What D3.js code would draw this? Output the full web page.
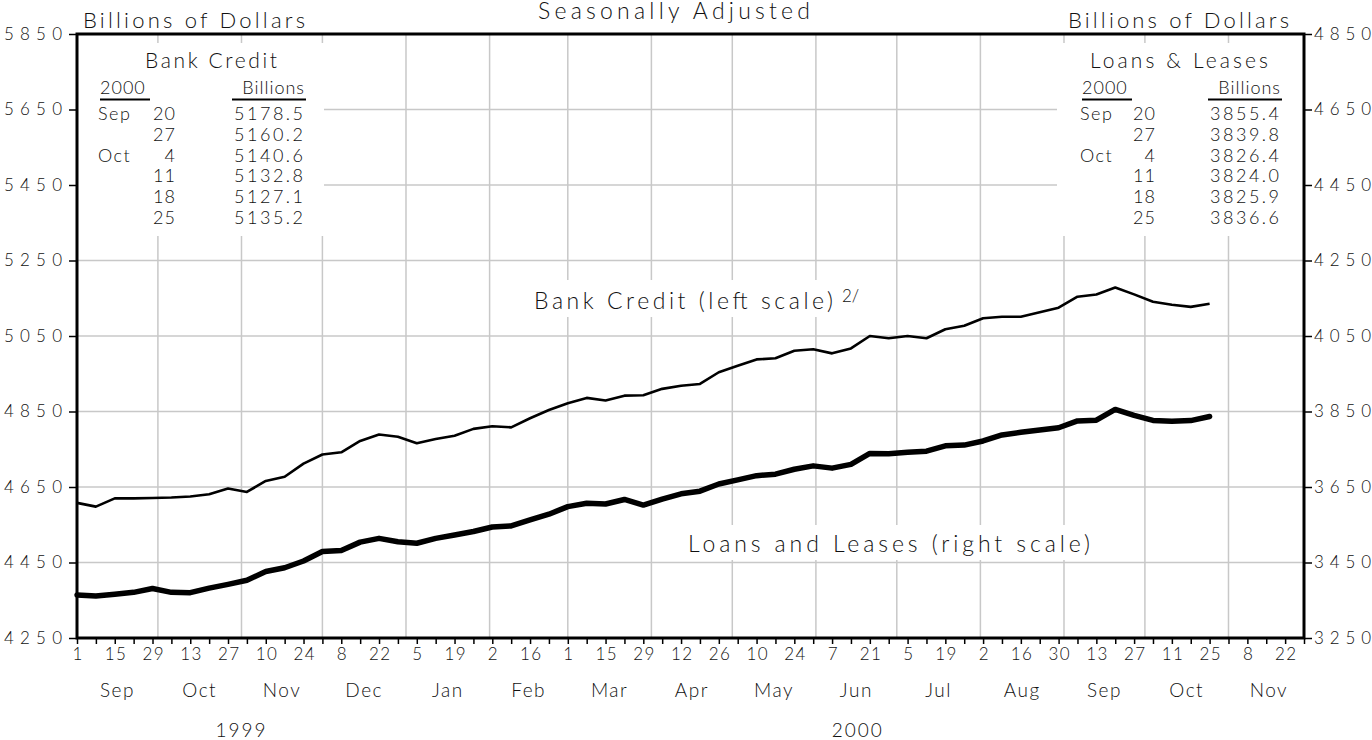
<!DOCTYPE html>
<html>
<head>
<meta charset="utf-8">
<script src="https://cdn.jsdelivr.net/npm/d3@7"></script>
<style>
  body { margin: 0; background: #fff; }
  text { font-family: Lato, "Open Sans", sans-serif; font-weight: 300; fill: #111; }
</style>
</head>
<body>
<div id="chart"></div>
<script>
// Weekly data, Wednesdays from 1 Sep 1999 to 25 Oct 2000
var firstWeek = "1999-09-01";
var lastWeek = "2000-10-25";

// Bank credit, billions of dollars (left scale)
var bankCredit = [4608, 4598, 4620, 4620, 4621, 4622, 4625, 4631, 4646, 4637,
  4666, 4677, 4712, 4736, 4742, 4772, 4789, 4783, 4766, 4777,
  4786, 4804, 4811, 4808, 4832, 4854, 4872, 4886, 4879, 4892,
  4893, 4910, 4918, 4923, 4954, 4971, 4988, 4991, 5011, 5015,
  5004, 5017, 5050, 5044, 5050, 5044, 5068, 5077, 5097, 5101,
  5101, 5113, 5125, 5154, 5160, 5178.5, 5160.2, 5140.6, 5132.8, 5127.1, 5135.2];

// Loans and leases, billions of dollars (right scale)
var loansLeases = [3364, 3361, 3366, 3371, 3381, 3371, 3370, 3382, 3392, 3403,
  3426, 3436, 3454, 3479, 3482, 3504, 3514, 3505, 3501, 3514,
  3523, 3532, 3544, 3547, 3563, 3578, 3598, 3607, 3605, 3617,
  3602, 3618, 3632, 3639, 3658, 3669, 3680, 3684, 3697, 3706,
  3700, 3710, 3739, 3738, 3742, 3745, 3759, 3761, 3772, 3788,
  3795, 3801, 3807, 3825, 3827, 3855.4, 3839.8, 3826.4, 3824.0, 3825.9, 3836.6];

// Axis ticks
var leftTicks = [4250, 4450, 4650, 4850, 5050, 5250, 5450, 5650, 5850];
var rightTicks = [3250, 3450, 3650, 3850, 4050, 4250, 4450, 4650, 4850];
var years = [{ label: "1999", from: "1999-09-01", to: "2000-01-01" },
             { label: "2000", from: "2000-01-01", to: "2000-12-01" }];

// Inset tables
var tableMonths = ["Sep", "", "Oct", "", "", ""];
var tableDays = ["20", "27", "4", "11", "18", "25"];
var bankCreditTable = ["5178.5", "5160.2", "5140.6", "5132.8", "5127.1", "5135.2"];
var loansTable = ["3855.4", "3839.8", "3826.4", "3824.0", "3825.9", "3836.6"];

// SVG area
var svgWidth = 1372;
var svgHeight = 740;
var chartMargin = { top: 34, right: 68, bottom: 102, left: 77 };
var chartWidth = svgWidth - chartMargin.left - chartMargin.right;
var chartHeight = svgHeight - chartMargin.top - chartMargin.bottom;

var svg = d3.select("#chart")
  .append("svg")
  .attr("width", svgWidth)
  .attr("height", svgHeight);

var chartGroup = svg.append("g")
  .attr("transform", `translate(${chartMargin.left}, ${chartMargin.top})`);

var parse = d3.utcParse("%Y-%m-%d");
var weeks = d3.utcWednesday.range(parse(firstWeek), d3.utcDay.offset(parse(lastWeek), 1));

// Scales
var xScale = d3.scaleUtc()
  .domain([parse("1999-09-01"), parse("2000-11-29")])
  .range([0, chartWidth]);
var yLeft = d3.scaleLinear().domain([4250, 5850]).range([chartHeight, 0]);
var yRight = d3.scaleLinear().domain([3250, 4850]).range([chartHeight, 0]);

var grey = "#c8c8c8";

// Horizontal grid
chartGroup.append("g")
  .selectAll("line")
  .data(leftTicks.slice(1, -1))
  .enter()
  .append("line")
  .attr("x1", 0).attr("x2", chartWidth)
  .attr("y1", d => yLeft(d)).attr("y2", d => yLeft(d))
  .attr("stroke", grey).attr("stroke-width", 1.5);

// Vertical grid at month starts
var monthStarts = d3.utcMonth.range(parse("1999-10-01"), parse("2000-11-02"));
chartGroup.append("g")
  .selectAll("line")
  .data(monthStarts)
  .enter()
  .append("line")
  .attr("x1", d => xScale(d)).attr("x2", d => xScale(d))
  .attr("y1", 0).attr("y2", chartHeight)
  .attr("stroke", grey).attr("stroke-width", 1.5);

// White boxes behind the insets and labels
var boxes = [[1, 9, 246, 193], [980, 9, 247, 193], [448, 246, 355, 37], [603, 491, 418, 35]];
chartGroup.append("g")
  .selectAll("rect")
  .data(boxes)
  .enter()
  .append("rect")
  .attr("x", d => d[0]).attr("y", d => d[1])
  .attr("width", d => d[2]).attr("height", d => d[3])
  .attr("fill", "#fff");

// Lines
var bankLine = d3.line()
  .x((d, i) => xScale(weeks[i]))
  .y(d => yLeft(d));
var loansLine = d3.line()
  .x((d, i) => xScale(weeks[i]))
  .y(d => yRight(d));

chartGroup.append("path")
  .datum(bankCredit)
  .attr("d", bankLine)
  .attr("fill", "none")
  .attr("stroke", "#000")
  .attr("stroke-width", 2.6)
  .attr("stroke-linejoin", "round");

chartGroup.append("path")
  .datum(loansLeases)
  .attr("d", loansLine)
  .attr("fill", "none")
  .attr("stroke", "#000")
  .attr("stroke-width", 5.5)
  .attr("stroke-linejoin", "round")
  .attr("stroke-linecap", "round");

// Axes
var leftAxis = d3.axisLeft(yLeft).tickValues(leftTicks).tickSize(8).tickPadding(7).tickFormat(d3.format("d"));
var rightAxis = d3.axisRight(yRight).tickValues(rightTicks).tickSize(8).tickPadding(2).tickFormat(d3.format("d"));
var bottomAxis = d3.axisBottom(xScale)
  .ticks(d3.utcWednesday.every(1))
  .tickSize(6)
  .tickPadding(4)
  .tickFormat((d, i) => i % 2 === 0 ? d3.utcFormat("%-d")(d) : "");

function styleAxis(g) {
  g.select(".domain").remove();
  g.selectAll(".tick line").attr("stroke", "#000").attr("stroke-width", 1.5);
  g.selectAll(".tick text")
    .style("font-size", "17px")
    .attr("fill", "#111");
}

chartGroup.append("g").call(leftAxis).call(styleAxis)
  .selectAll(".tick text").attr("textLength", 58).attr("lengthAdjust", "spacing");
chartGroup.append("g")
  .attr("transform", `translate(${chartWidth}, 0)`)
  .call(rightAxis).call(styleAxis)
  .selectAll(".tick text").attr("textLength", 57).attr("lengthAdjust", "spacing");
chartGroup.append("g")
  .attr("transform", `translate(0, ${chartHeight})`)
  .call(bottomAxis).call(styleAxis)
  .selectAll(".tick text")
  .filter(function () { return this.textContent.length === 2; })
  .attr("textLength", 21).attr("lengthAdjust", "spacing");

// Frame
chartGroup.append("rect")
  .attr("width", chartWidth)
  .attr("height", chartHeight)
  .attr("fill", "none")
  .attr("stroke", "#000")
  .attr("stroke-width", 3);

// Month labels, centred in each month
var monthSpans = d3.utcMonth.range(parse("1999-09-01"), parse("2000-11-02"));
chartGroup.append("g")
  .selectAll("text")
  .data(monthSpans)
  .enter()
  .append("text")
  .attr("x", d => (xScale(d) + xScale(d3.utcMonth.offset(d, 1))) / 2)
  .attr("y", chartHeight + 59)
  .attr("text-anchor", "middle")
  .style("font-size", "19px")
  .style("letter-spacing", "1.5px")
  .text(d => d3.utcFormat("%b")(d));

// Year labels
chartGroup.append("g")
  .selectAll("text")
  .data(years)
  .enter()
  .append("text")
  .attr("x", d => (xScale(parse(d.from)) + xScale(parse(d.to))) / 2)
  .attr("y", chartHeight + 99)
  .attr("text-anchor", "middle")
  .style("font-size", "19px")
  .style("letter-spacing", "2px")
  .text(d => d.label);

// Titles
function wideText(x, y, size, width, anchor, str) {
  return svg.append("text")
    .attr("x", x).attr("y", y)
    .attr("text-anchor", anchor)
    .style("font-size", size + "px")
    .attr("textLength", width)
    .attr("lengthAdjust", "spacing")
    .text(str);
}

wideText(674, 19, 23, 272, "middle", "Seasonally Adjusted");
wideText(83, 28, 22, 222, "start", "Billions of Dollars");
wideText(1068, 28, 22, 221, "start", "Billions of Dollars");

// Series labels
wideText(534, 309, 23, 299, "start", "Bank Credit (left scale)");
svg.append("text")
  .attr("x", 842).attr("y", 302)
  .style("font-size", "17px")
  .text("2/");
wideText(688, 552, 23, 402, "start", "Loans and Leases (right scale)");

// Inset tables
function drawTable(title, titleX, titleW, left, values) {
  var g = svg.append("g");
  g.append("text")
    .attr("x", titleX).attr("y", 68)
    .attr("text-anchor", "middle")
    .style("font-size", "21px")
    .attr("textLength", titleW).attr("lengthAdjust", "spacing")
    .text(title);
  g.append("text")
    .attr("x", left.year).attr("y", 94)
    .style("font-size", "18px").style("letter-spacing", "1px")
    .text("2000");
  g.append("line")
    .attr("x1", left.year).attr("x2", left.year + 50)
    .attr("y1", 99.5).attr("y2", 99.5)
    .attr("stroke", "#000").attr("stroke-width", 2);
  g.append("text")
    .attr("x", left.value + 2).attr("y", 94)
    .attr("text-anchor", "end")
    .style("font-size", "18px").style("letter-spacing", "1px")
    .text("Billions");
  g.append("line")
    .attr("x1", left.value - 71).attr("x2", left.value + 3)
    .attr("y1", 99.5).attr("y2", 99.5)
    .attr("stroke", "#000").attr("stroke-width", 2);

  var rowY = d3.scaleLinear().domain([0, 5]).range([120, 224]);
  g.selectAll(".m")
    .data(tableMonths)
    .enter()
    .append("text")
    .attr("x", left.month).attr("y", (d, i) => rowY(i))
    .style("font-size", "18px").style("letter-spacing", "1.5px")
    .text(d => d);
  g.selectAll(".d")
    .data(tableDays)
    .enter()
    .append("text")
    .attr("x", left.day).attr("y", (d, i) => rowY(i))
    .attr("text-anchor", "end")
    .style("font-size", "18px").style("letter-spacing", "1px")
    .text(d => d);
  g.selectAll(".v")
    .data(values)
    .enter()
    .append("text")
    .attr("x", left.value - 69).attr("y", (d, i) => rowY(i))
    .style("font-size", "18px")
    .attr("textLength", 69).attr("lengthAdjust", "spacing")
    .text(d => d);
}

drawTable("Bank Credit", 211, 132, { year: 100, month: 98, day: 176, value: 303 }, bankCreditTable);
drawTable("Loans & Leases", 1179, 178, { year: 1082, month: 1080, day: 1156, value: 1279 }, loansTable);
</script>
</body>
</html>
